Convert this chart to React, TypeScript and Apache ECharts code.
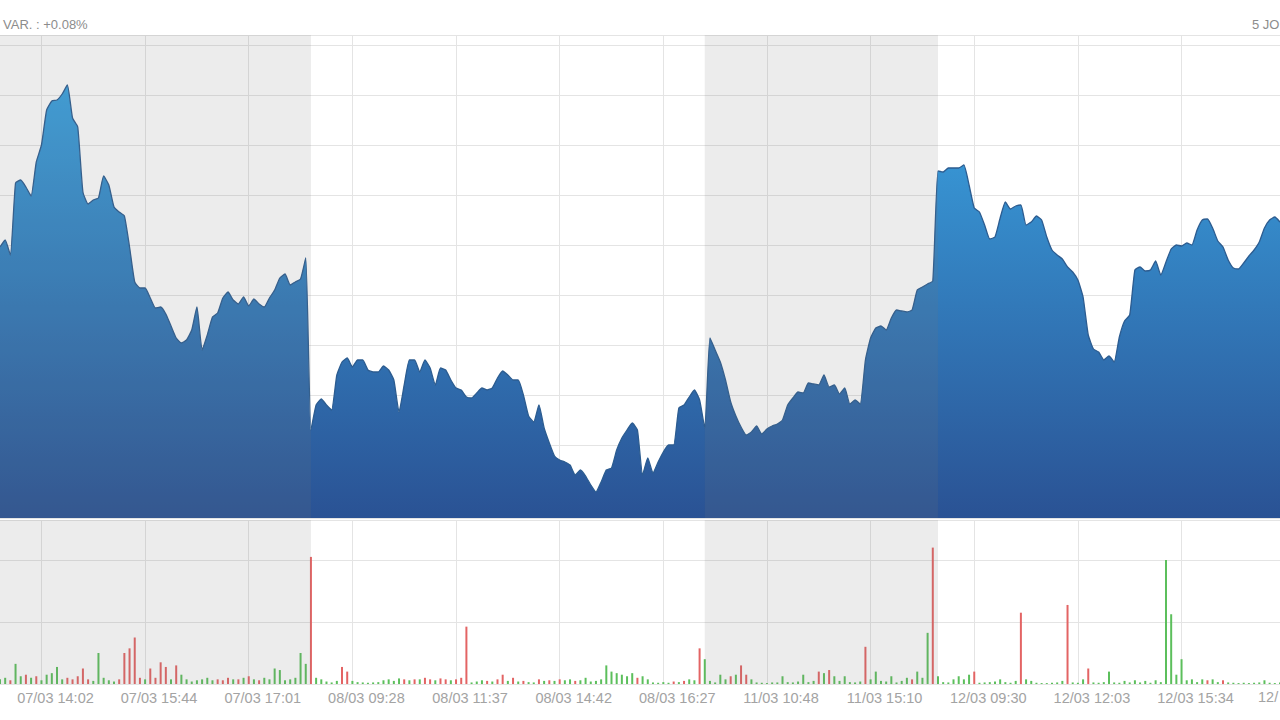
import React, { useEffect, useRef } from "react";
import * as echarts from "echarts";

// Price samples (one per sample slot, left to right)
const prices = [
  7.48, 7.55, 7.40, 8.12, 8.15, 8.08, 7.99, 8.33, 8.50, 8.85,
  8.94, 8.95, 9.01, 9.10, 8.77, 8.68, 8.03, 7.91, 7.95, 7.97,
  8.19, 8.10, 7.88, 7.83, 7.79, 7.48, 7.13, 7.07, 7.07, 6.97,
  6.87, 6.88, 6.81, 6.69, 6.57, 6.52, 6.55, 6.65, 6.88, 6.45,
  6.60, 6.78, 6.82, 6.97, 7.03, 6.95, 6.91, 6.98, 6.89, 6.96,
  6.91, 6.88, 6.97, 7.05, 7.17, 7.21, 7.10, 7.13, 7.16, 7.37,
  5.65, 5.90, 5.96, 5.90, 5.85, 6.20, 6.33, 6.37, 6.28, 6.35,
  6.35, 6.25, 6.23, 6.23, 6.29, 6.25, 6.15, 5.83, 6.10, 6.35,
  6.35, 6.23, 6.35, 6.27, 6.10, 6.27, 6.25, 6.15, 6.07, 6.05,
  5.98, 5.97, 6.02, 6.07, 6.05, 6.07, 6.17, 6.24, 6.20, 6.15,
  6.15, 6.00, 5.79, 5.73, 5.90, 5.67, 5.52, 5.39, 5.35, 5.33,
  5.30, 5.20, 5.25, 5.19, 5.10, 5.03, 5.13, 5.25, 5.27, 5.45,
  5.57, 5.65, 5.72, 5.65, 5.20, 5.37, 5.22, 5.33, 5.43, 5.50,
  5.50, 5.87, 5.90, 5.98, 6.05, 5.95, 5.67, 6.57, 6.45, 6.33,
  6.15, 5.93, 5.79, 5.68, 5.60, 5.63, 5.69, 5.61, 5.66, 5.69,
  5.71, 5.75, 5.90, 5.97, 6.03, 6.02, 6.12, 6.11, 6.10, 6.20,
  6.08, 6.10, 6.01, 6.07, 5.91, 5.95, 5.91, 6.35, 6.57, 6.67,
  6.69, 6.65, 6.77, 6.85, 6.84, 6.83, 6.85, 7.05, 7.08, 7.11,
  7.14, 8.24, 8.23, 8.27, 8.27, 8.27, 8.30, 8.10, 7.87, 7.83,
  7.70, 7.56, 7.58, 7.77, 7.93, 7.86, 7.89, 7.90, 7.70, 7.73,
  7.79, 7.75, 7.58, 7.45, 7.40, 7.36, 7.28, 7.23, 7.15, 6.98,
  6.60, 6.46, 6.43, 6.35, 6.39, 6.33, 6.58, 6.74, 6.80, 7.25,
  7.28, 7.24, 7.25, 7.34, 7.20, 7.33, 7.46, 7.50, 7.49, 7.52,
  7.50, 7.65, 7.75, 7.76, 7.67, 7.54, 7.48, 7.35, 7.27, 7.26,
  7.32, 7.39, 7.45, 7.53, 7.67, 7.75, 7.78, 7.73,
];

// Volumes in thousands; negative = sell (red), positive = buy (green)
const volumes = [
  1.5, 2, -1.2, 6.5, 2.5, -3, 2, -2.5, 1.2, 3,
  3.5, 5.5, 1.5, -2, -1.5, -2.5, -5, -1.5, 1, 10,
  2, 1.2, 0.8, -1.5, -10, -11.5, -15, -2, 1.5, -5,
  -2, -7, -5.5, 1.5, -6, 3, 1.5, 0.8, 1.2, 1.5,
  2, 1.2, -1.5, -1.2, -2, 1.5, -1.5, 2, -2.5, 1.5,
  -1.2, 2, 1.5, 5, 4.5, 1.2, 1.5, 2, 10, 6.5,
  -41, 2, 1.5, 0.8, 0.5, 1, -5.5, -4, 1, 0.6,
  0.5, 0.4, 0.5, 0.6, 1.2, 1.5, 1, 1.8, -1.5, 1.2,
  -1.5, 1.5, -2, -1.5, 1.2, -1.8, -1.5, 1.2, -1.5, -2,
  -18.5, 0.5, 0.8, 1.2, -1, 0.8, -1.5, -3, 1, -2,
  0.8, -1, 0.6, 0.5, -1.5, 1, -1.2, 1, -1.5, 1.2,
  1.5, -1, 1.2, 2, 0.8, 1, 1.5, 6, 4, 3.5,
  3, 2.5, 3.5, -2, 2.5, 1.5, 0.5, 0.4, 0.6, 0.4,
  -0.8, 0.6, -1, 1.5, 1.2, -11.5, 8, 1, 0.5, 3,
  1.5, -2.5, 3, -6, -3, 1.5, 0.5, 0.4, 0.3, 0.5,
  0.5, 2.5, 0.6, 0.5, 0.8, 3, 0.6, 1, -4, 3.5,
  -4.5, 2.5, 1, 2.5, 0.6, 0.5, 0.8, -12, 1.5, 4,
  1, 0.8, 2.5, 0.5, 1, 2, -1.5, 4, 2, 16.5,
  -44, 2.5, 0.6, 0.5, 1.5, 2.5, 1.5, 3, -4, 0.4,
  0.5, 0.6, 0.8, 1.5, 0.6, 0.4, 1, -23, 1.5, 1,
  0.4, 0.3, 0.3, 0.4, 0.5, 1, -25.5, 0.5, 0.4, 1.5,
  -5, 0.5, 0.4, 0.6, 4, 0.5, 0.4, 1, 0.5, 1.2,
  0.5, 1, 0.4, 1.2, 0.6, 40, 22.5, 3, 8, 1.2,
  1.5, 0.6, 1.5, -1.2, 1.5, 0.6, -1.2, 0.5, 0.4, 0.3,
  0.4, 0.3, 0.4, 0.5, 1.2, 0.4, 0.3, 0.5,
];

const tickLabels = [
  "07/03 14:02", "07/03 15:44", "07/03 17:01", "08/03 09:28",
  "08/03 11:37", "08/03 14:42", "08/03 16:27", "11/03 10:48",
  "11/03 15:10", "12/03 09:30", "12/03 12:03", "12/03 15:34",
];
const firstTickSample = 8;
const samplesPerTick = 20;

// Sessions drawn with grey background: [start sample, end sample]
const greySessions = [
  [0, 60],
  [136, 181],
];

// Header texts as far as the (cropped) reference shows them
const headerLeft = "VAR. : +0.08%";
const headerRight = "5 JO";
const cutLabel = "12/";

const FONT = "Liberation Sans, Arial, Helvetica, sans-serif";
const GRID_LINE = "#e4e4e4";
const LABEL = "#a3a3a3";
const UP = "#5cbf5c";
const DOWN = "#e36464";

export default function App() {
  const ref = useRef<HTMLDivElement>(null);

  useEffect(() => {
    if (!ref.current) return;
    const chart = echarts.init(ref.current, null, { renderer: "svg" });
    const cats = prices.map((_, i) => String(i));
    const isTick = (index: number) =>
      index >= firstTickSample && (index - firstTickSample) % samplesPerTick === 0;

    const shade = {
      silent: true,
      z: 5,
      itemStyle: { color: "rgba(120,120,120,0.14)" },
      data: greySessions.map(([a, b]) => [{ xAxis: String(a) }, { xAxis: String(b) }]),
    };

    const hiddenAxisBits = {
      axisLine: { show: false },
      axisTick: { show: false },
    };

    chart.setOption({
      animation: false,
      backgroundColor: "#ffffff",
      textStyle: { fontFamily: FONT },
      grid: [
        { left: 0, right: 0, top: 35, height: 483 },
        { left: 0, right: 0, top: 520, height: 164 },
      ],
      xAxis: [
        {
          type: "category",
          gridIndex: 0,
          data: cats,
          boundaryGap: false,
          ...hiddenAxisBits,
          axisLabel: { show: false },
          splitLine: { show: true, interval: isTick, lineStyle: { color: GRID_LINE, width: 1 } },
        },
        {
          type: "category",
          gridIndex: 1,
          data: cats,
          boundaryGap: false,
          ...hiddenAxisBits,
          axisLabel: {
            show: true,
            interval: isTick,
            formatter: (_v: string, index: number) =>
              tickLabels[(index - firstTickSample) / samplesPerTick] ?? "",
            color: LABEL,
            fontSize: 14.5,
            fontFamily: FONT,
            margin: 6,
            padding: [0, 0, 0, 28],
          },
          splitLine: { show: true, interval: isTick, lineStyle: { color: GRID_LINE, width: 1 } },
        },
      ],
      yAxis: [
        {
          type: "value",
          gridIndex: 0,
          min: 4.77,
          max: 9.6,
          splitNumber: 10,
          ...hiddenAxisBits,
          axisLabel: { show: false },
          splitLine: { show: true, lineStyle: { color: GRID_LINE, width: 1 } },
        },
        {
          type: "value",
          gridIndex: 1,
          min: 0,
          max: 52.9,
          splitNumber: 3,
          ...hiddenAxisBits,
          axisLabel: { show: false },
          splitLine: { show: true, lineStyle: { color: GRID_LINE, width: 1 } },
        },
      ],
      series: [
        {
          type: "line",
          xAxisIndex: 0,
          yAxisIndex: 0,
          data: prices,
          symbol: "none",
          smooth: 0.15,
          lineStyle: { color: "#2c5c90", width: 1.3 },
          areaStyle: {
            origin: "start",
            opacity: 1,
            color: new echarts.graphic.LinearGradient(0, 0, 0, 1, [
              { offset: 0, color: "#3aa2e0" },
              { offset: 1, color: "#2a5294" },
            ]),
          },
          markArea: shade,
        },
        {
          type: "bar",
          xAxisIndex: 1,
          yAxisIndex: 1,
          barWidth: 2,
          data: volumes.map((v) => ({
            value: Math.abs(v),
            itemStyle: { color: v < 0 ? DOWN : UP },
          })),
        },
        {
          // carrier for the grey session background of the volume panel
          type: "line",
          xAxisIndex: 1,
          yAxisIndex: 1,
          data: volumes.map(() => 0),
          symbol: "none",
          silent: true,
          lineStyle: { opacity: 0 },
          markArea: shade,
        },
      ],
      graphic: [
        {
          type: "text",
          x: 3,
          y: 24,
          style: {
            text: headerLeft,
            fill: "#8c8c8c",
            fontSize: 13,
            fontFamily: FONT,
            verticalAlign: "middle",
          },
        },
        {
          type: "text",
          x: 1252,
          y: 24,
          style: {
            text: headerRight,
            fill: "#8c8c8c",
            fontSize: 13,
            fontFamily: FONT,
            verticalAlign: "middle",
          },
        },
        {
          type: "text",
          x: 1258,
          y: 697,
          style: {
            text: cutLabel,
            fill: LABEL,
            fontSize: 14.5,
            fontFamily: FONT,
            verticalAlign: "middle",
          },
        },
      ],
    });
    return () => chart.dispose();
  }, []);

  return (
    <div
      ref={ref}
      style={{ position: "absolute", left: 0, top: 0, width: 1280, height: 720, overflow: "hidden" }}
    />
  );
}
